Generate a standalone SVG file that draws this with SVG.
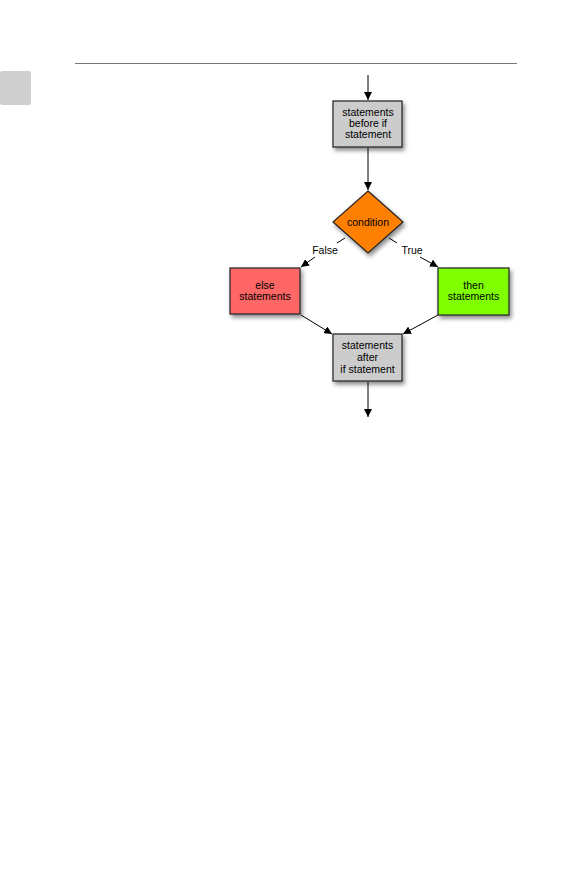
<svg xmlns="http://www.w3.org/2000/svg" width="586" height="888" viewBox="0 0 586 888">
<style>
.box{stroke:#222;stroke-width:1.2}
.t{font-family:"Liberation Sans",Arial,sans-serif;font-size:10.5px;fill:#000;text-anchor:middle}
.c{stroke:#000;stroke-width:1;fill:none}
</style>
<defs>
<filter id="sh" x="-20%" y="-20%" width="150%" height="150%">
<feDropShadow dx="2" dy="3" stdDeviation="2" flood-color="#000" flood-opacity="0.45"/>
</filter>
<marker id="ah" viewBox="0 0 10 10" refX="10" refY="5" markerWidth="8" markerHeight="8" markerUnits="userSpaceOnUse" orient="auto">
<path d="M0,0 L10,5 L0,10 z" fill="#000"/>
</marker>
</defs>
<rect x="0" y="0" width="586" height="888" fill="#fff"/>
<line x1="75" y1="63.5" x2="517" y2="63.5" stroke="#777" stroke-width="1"/>
<rect x="0" y="71" width="31" height="34" rx="2" fill="#cfcfcf"/>
<g id="connectors">
<line class="c" x1="368" y1="75" x2="368" y2="100" marker-end="url(#ah)"/>
<line class="c" x1="368" y1="148" x2="368" y2="190" marker-end="url(#ah)"/>
<line class="c" x1="345" y1="238" x2="337" y2="243"/>
<line class="c" x1="315" y1="257" x2="301" y2="267" marker-end="url(#ah)"/>
<line class="c" x1="389" y1="238" x2="397" y2="243"/>
<line class="c" x1="420" y1="257" x2="438" y2="267" marker-end="url(#ah)"/>
<line class="c" x1="301" y1="315" x2="332" y2="334" marker-end="url(#ah)"/>
<line class="c" x1="438" y1="315" x2="403" y2="334" marker-end="url(#ah)"/>
<line class="c" x1="368" y1="382" x2="368" y2="417" marker-end="url(#ah)"/>
<text class="t" x="325" y="254">False</text>
<text class="t" x="412" y="254">True</text>
</g>
<g id="before">
<rect class="box" x="333" y="101" width="69" height="46" fill="#cccccc" filter="url(#sh)"/>
<text class="t" x="368" y="116">statements</text>
<text class="t" x="368" y="127">before if</text>
<text class="t" x="368" y="138">statement</text>
</g>
<g id="condition">
<polygon class="box" points="368,191 403,222 368,253 333,222" fill="#ff8000" filter="url(#sh)"/>
<text class="t" x="368" y="225.5">condition</text>
</g>
<g id="else">
<rect class="box" x="230" y="268" width="70" height="46" fill="#ff6666" filter="url(#sh)"/>
<text class="t" x="265" y="289">else</text>
<text class="t" x="265" y="300">statements</text>
</g>
<g id="then">
<rect class="box" x="438" y="268" width="71" height="47" fill="#80ff00" filter="url(#sh)"/>
<text class="t" x="473.5" y="289">then</text>
<text class="t" x="473.5" y="300">statements</text>
</g>
<g id="after">
<rect class="box" x="333" y="334" width="69" height="47" fill="#cccccc" filter="url(#sh)"/>
<text class="t" x="367.5" y="349">statements</text>
<text class="t" x="367.5" y="361">after</text>
<text class="t" x="367.5" y="373">if statement</text>
</g>
</svg>
